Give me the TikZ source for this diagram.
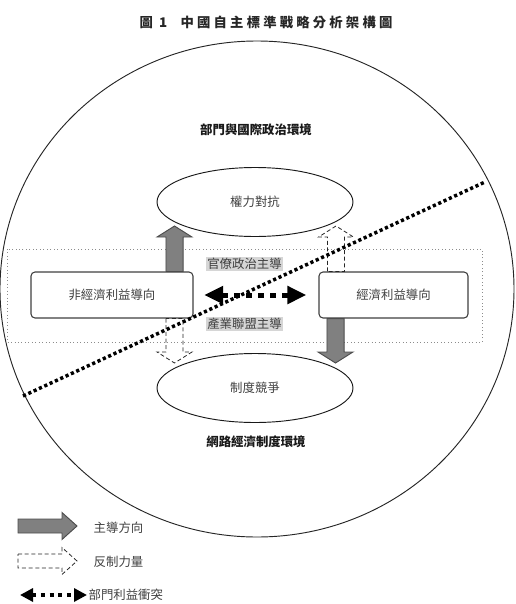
\documentclass[tikz,border=0pt]{standalone}
\usepackage{fontspec}
\setmainfont{Noto Sans CJK TC}
\newfontfamily\fuentetitulo[LetterSpace=24]{Noto Sans CJK TC}
\usetikzlibrary{arrows.meta,calc,shapes.geometric}

% Flecha gruesa vertical: estilo, desde, hasta
\newcommand{\flechav}[3]{%
  \draw[#1] let \p1=(#2), \p2=(#3), \n1={sign(\y2-\y1)} in
    ({\x1-6.4pt},\y1) -- ({\x1-6.4pt},{\y2-(\n1)*8.25pt}) -- ({\x1-13.1pt},{\y2-(\n1)*8.25pt})
    -- (\x1,\y2) -- ({\x1+13.1pt},{\y2-(\n1)*8.25pt}) -- ({\x1+6.4pt},{\y2-(\n1)*8.25pt})
    -- ({\x1+6.4pt},\y1) -- cycle;}
% Flecha gruesa horizontal (leyenda)
\newcommand{\flechah}[3]{%
  \draw[#1] let \p1=(#2), \p2=(#3) in
    (\x1,{\y1+5.25pt}) -- ({\x2-11.25pt},{\y1+5.25pt}) -- ({\x2-11.25pt},{\y1+10.1pt})
    -- (\x2,\y1) -- ({\x2-11.25pt},{\y1-10.1pt}) -- ({\x2-11.25pt},{\y1-5.25pt})
    -- (\x1,{\y1-5.25pt}) -- cycle;}

\begin{document}
\begin{tikzpicture}[x=0.75pt,y=-0.75pt,
  texto/.style={text=black!75, font=\fontsize{9.3}{11}\selectfont},
  caja/.style={texto, draw=black!75, line width=0.8pt, rounded corners=3pt, fill=white, minimum height=34.5pt, inner sep=0pt},
  juego/.style={texto, draw=black!90, ellipse, line width=0.7pt, fill=white, minimum width=147pt, minimum height=51.75pt, inner sep=0pt},
  entorno/.style={texto, text=black!90, font=\fontsize{9.3}{11}\selectfont\bfseries},
  via/.style={texto, fill=black!16, inner sep=1pt},
  principal/.style={draw=black!70, fill=black!50, line width=0.7pt},
  reaccion/.style={draw=black!85, dash pattern=on 3pt off 2pt, line width=0.6pt},
  conflicto/.style={line width=3.75pt, dash pattern=on 4.5pt off 4.5pt,
    {Triangle[width=12.75pt,length=14.25pt]}-{Triangle[width=12.75pt,length=14.25pt]}},
  frontera/.style={line width=2.6pt, dash pattern=on 2.4pt off 2pt}]
\useasboundingbox (0,0) rectangle (516,604);

% Titulo
\node[text=black!85, font=\fuentetitulo\fontsize{10}{12}\selectfont\bfseries] (titulo) at (266,22) {圖 1\quad 中國自主標準戰略分析架構圖};

% Entorno general
\draw[line width=0.7pt, black!85] (257,289) ellipse [x radius=192.75pt, y radius=186pt];
\node[entorno] (arriba) at (256,130) {部門與國際政治環境};
\node[entorno] (abajo) at (256,442) {網路經濟制度環境};
\draw[black!45, dotted, line width=0.6pt] (7,249) rectangle (482,342);

% Juegos
\node[juego] (poder) at (255,202) {權力對抗};
\node[juego] (institucion) at (255,388) {制度競爭};

% Orientaciones
\node[caja, minimum width=121.5pt] (nolucro) at (112,295) {非經濟利益導向};
\node[caja, minimum width=111.75pt] (lucro) at (393.5,295) {經濟利益導向};
\node[via] (burocracia) at (244.5,264) {官僚政治主導};
\node[via] (alianza) at (244.5,324) {產業聯盟主導};

% Fuerzas
\coordinate (a1) at (174.5,226);
\coordinate (a2) at (335.5,363);
\coordinate (a3) at (336,226);
\coordinate (a4) at (174.5,363);
\flechav{principal}{a1 |- nolucro.north}{a1}
\flechav{principal}{a2 |- lucro.south}{a2}
\flechav{reaccion}{a3 |- lucro.north}{a3}
\flechav{reaccion}{a4 |- nolucro.south}{a4}
\draw[conflicto, shorten <=8pt, shorten >=9pt] (nolucro.east) -- (lucro.west);

% Linea divisoria
\coordinate (d1) at (23,396);
\coordinate (d2) at (485,182);
\draw[frontera] (d1) -- (d2);

% Leyenda
\coordinate (l1) at (18,526);
\coordinate (l2) at (77,526);
\coordinate (l3) at (18,561);
\coordinate (l4) at (77,561);
\coordinate (l5) at (20,595);
\coordinate (l6) at (87,595);
\flechah{principal}{l1}{l2}
\flechah{reaccion}{l3}{l4}
\draw[line width=2.4pt, dash pattern=on 3pt off 3.5pt,
  {Triangle[width=9.75pt,length=9.75pt]}-{Triangle[width=9.75pt,length=9.75pt]}] (l5) -- (l6);
\node[texto, anchor=west] (ley1) at (89,528) {主導方向};
\node[texto, anchor=west] (ley2) at (89,562) {反制力量};
\node[texto, anchor=west, inner xsep=1pt] (ley3) at (87,595) {部門利益衝突};
\end{tikzpicture}
\end{document}
